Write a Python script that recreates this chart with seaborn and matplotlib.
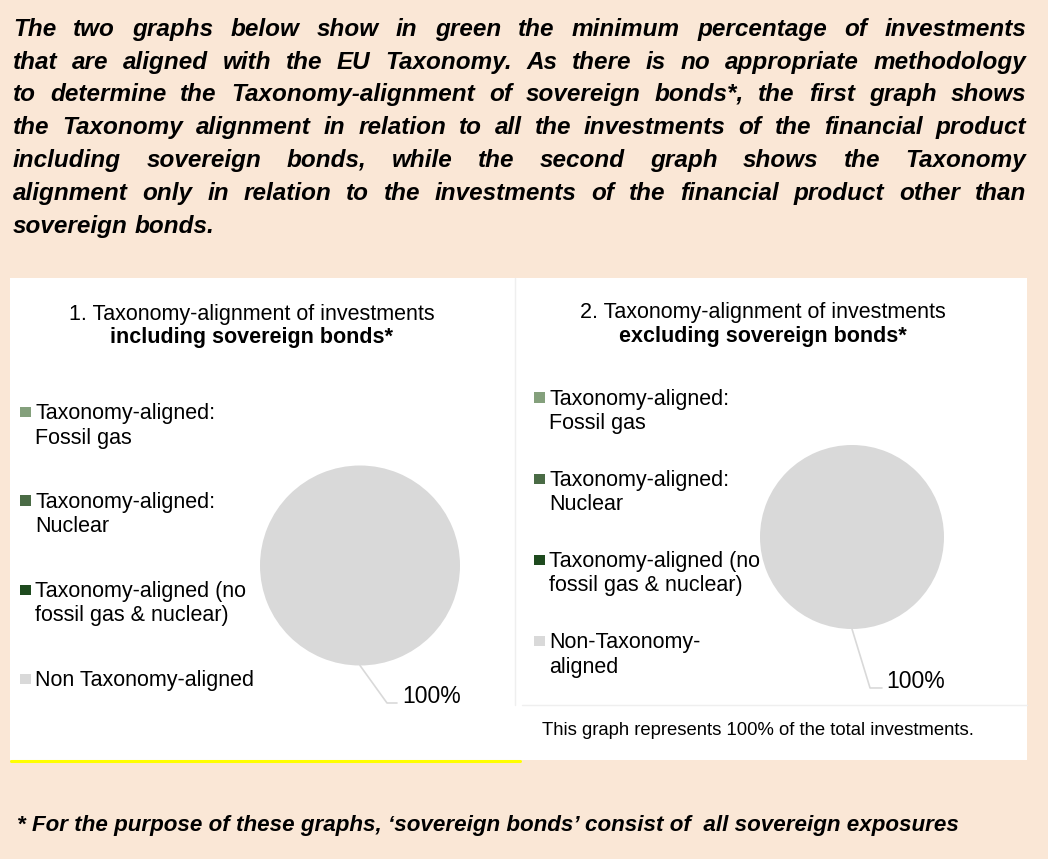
import matplotlib
matplotlib.use("Agg")
import matplotlib.pyplot as plt
import seaborn as sns
import numpy as np
from matplotlib.patches import Rectangle
from matplotlib.lines import Line2D

# ---------------- data ----------------
categories_1 = ["Taxonomy-aligned:\nFossil gas",
                "Taxonomy-aligned:\nNuclear",
                "Taxonomy-aligned (no\nfossil gas & nuclear)",
                "Non Taxonomy-aligned"]
categories_2 = ["Taxonomy-aligned:\nFossil gas",
                "Taxonomy-aligned:\nNuclear",
                "Taxonomy-aligned (no\nfossil gas & nuclear)",
                "Non-Taxonomy-\naligned"]
values_1 = [0, 0, 0, 100]
values_2 = [0, 0, 0, 100]
slice_colors = ["#84A07C", "#4A6B45", "#1E4A1E", "#D9D9D9"]

title_1 = ["1. Taxonomy-alignment of investments", "including sovereign bonds*"]
title_2 = ["2. Taxonomy-alignment of investments", "excluding sovereign bonds*"]
caption_2 = "This graph represents 100% of the total investments."
intro_lines = [
    "The two graphs below show in green the minimum percentage of investments",
    "that are aligned with the EU Taxonomy. As there is no appropriate methodology",
    "to determine the Taxonomy-alignment of sovereign bonds*, the first graph shows",
    "the Taxonomy alignment in relation to all the investments of the financial product",
    "including sovereign bonds, while the second graph shows the Taxonomy",
    "alignment only in relation to the investments of the financial product other than",
    "sovereign bonds.",
]
footnote = "* For the purpose of these graphs, \u2018sovereign bonds\u2019 consist of  all sovereign exposures"

# ---------------- style ----------------
sns.set_theme(style="white")
plt.rcParams["font.family"] = ["Liberation Sans", "DejaVu Sans"]

BG = "#FAE7D6"
W, H = 1048, 859
fig = plt.figure(figsize=(W / 100, H / 100), dpi=100)
fig.patch.set_facecolor(BG)
renderer = fig.canvas.get_renderer()


def fx(x):
    return x / W


def fy(y):
    return 1 - y / H


def ftext(x, y, s, **kw):
    return fig.text(fx(x), fy(y), s, **kw)


# ---------------- intro paragraph (justified) ----------------
INTRO_FS = 17.5
left_x, right_x = 13, 1026
baselines = [36, 69, 101, 134, 167, 200, 233]
bi = dict(fontsize=INTRO_FS, fontweight="bold", fontstyle="italic")
t1 = ftext(0, 0, "a a", **bi)
t2 = ftext(0, 0, "aa", **bi)
space_w = t1.get_window_extent(renderer).width - t2.get_window_extent(renderer).width
t1.remove()
t2.remove()
for i, line in enumerate(intro_lines):
    words = line.split(" ")
    objs = [ftext(0, baselines[i], w, va="baseline", ha="left", color="black", **bi)
            for w in words]
    widths = [o.get_window_extent(renderer).width for o in objs]
    last = i == len(intro_lines) - 1
    if last or len(words) == 1:
        gap = space_w
    else:
        gap = (right_x - left_x - sum(widths)) / (len(words) - 1)
    x = left_x
    for o, w in zip(objs, widths):
        o.set_x(fx(x))
        x += w + gap

# ---------------- panels ----------------
fig.patches.append(Rectangle((fx(10), fy(760)), (1027 - 10) / W, (760 - 278) / H,
                             transform=fig.transFigure, facecolor="white",
                             edgecolor="none", zorder=-5))
fig.lines.append(Line2D([fx(515), fx(515)], [fy(278), fy(705)],
                        transform=fig.transFigure, color="#EFEFEF", lw=1, zorder=-4))
fig.lines.append(Line2D([fx(522), fx(1027)], [fy(705), fy(705)],
                        transform=fig.transFigure, color="#EFEFEF", lw=1, zorder=-4))
fig.lines.append(Line2D([fx(11), fx(520)], [fy(761), fy(761)],
                        transform=fig.transFigure, color="#FFFF00", lw=2.2, zorder=-4))

CHART_FS = 15.5
LINE_H = 24.5


def draw_panel(cx, cy, r, values, cats, title, title_cx, title_bl,
               leg_x, leg_bl, leg_step, leader, label_dx):
    ax = fig.add_axes([fx(cx - r), fy(cy + r), 2 * r / W, 2 * r / H])
    ax.set_facecolor("none")
    wedges, _ = ax.pie(values, colors=slice_colors, startangle=90,
                       counterclock=False, radius=1,
                       wedgeprops=dict(linewidth=0))
    ax.set_xlim(-1, 1)
    ax.set_ylim(-1, 1)
    ax.axis("off")
    # data label with leader line for the non-zero slice(s)
    for wdg, v in zip(wedges, values):
        if v <= 0:
            continue
        mid = np.deg2rad((wdg.theta1 + wdg.theta2) / 2)
        sx, sy = np.cos(mid), np.sin(mid)
        ex, ey = sx + leader[0], sy + leader[1]
        ax.plot([sx, ex, ex + leader[2]], [sy, ey, ey], color="#D9D9D9",
                lw=1.2, clip_on=False)
        ax.text(ex + leader[2] + label_dx, ey, f"{v:.0f}%", fontsize=16.5,
                va="baseline", ha="left", color="black", clip_on=False)
    # title
    ftext(title_cx, title_bl[0], title[0], fontsize=CHART_FS, ha="center",
          va="baseline", color="black")
    ftext(title_cx, title_bl[1], title[1], fontsize=CHART_FS, ha="center",
          va="baseline", color="black", fontweight="bold")
    # legend
    for i, (c, col) in enumerate(zip(cats, slice_colors)):
        bl = leg_bl + i * leg_step
        fig.patches.append(Rectangle((fx(leg_x), fy(bl - 2)), 10.5 / W, 10.5 / H,
                                     transform=fig.transFigure, facecolor=col,
                                     edgecolor="none"))
        for k, part in enumerate(c.split("\n")):
            ftext(leg_x + 15, bl + k * LINE_H, part, fontsize=CHART_FS,
                  va="baseline", ha="left", color="black")
    return ax


draw_panel(360, 565.5, 100, values_1, categories_1, title_1, 252, (320, 343),
           20, 419, 89, (0.27, -0.375, 0.10), 0.05)
draw_panel(852, 537, 92, values_2, categories_2, title_2, 763, (318, 342),
           534, 405, 81, (0.196, -0.641, 0.13), 0.045)

ftext(542, 735, caption_2, fontsize=13.3, va="baseline", ha="left", color="black")

# ---------------- footnote ----------------
fn = ftext(17, 831, footnote, fontsize=16, fontweight="bold", fontstyle="italic",
           va="baseline", ha="left", color="black",
           family=["Liberation Sans Narrow", "Liberation Sans", "DejaVu Sans"])
w0 = fn.get_window_extent(renderer).width
fn.set_fontsize(16 * 943 / w0)

fig.savefig("out.png", dpi=100, facecolor=fig.get_facecolor())
